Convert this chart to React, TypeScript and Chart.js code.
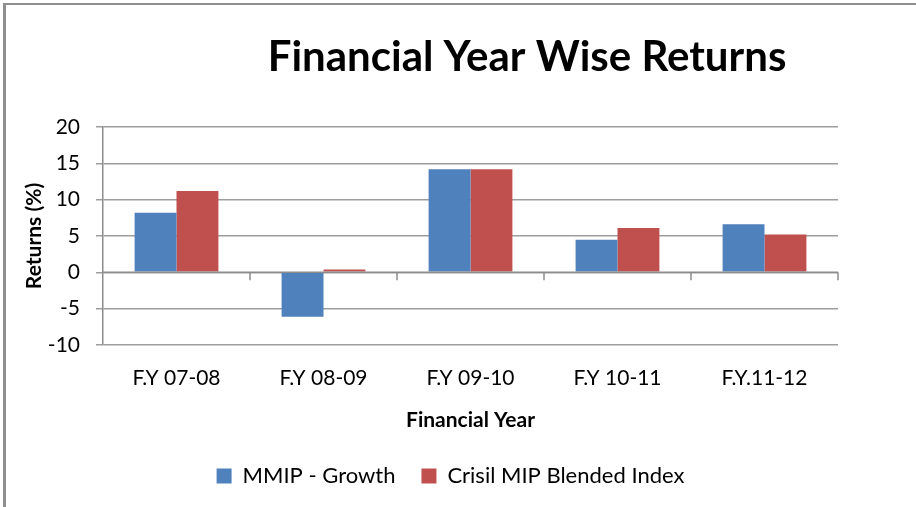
import React, { useEffect, useRef } from "react";
import { Chart, registerables } from "chart.js";

Chart.register(...registerables);

const categories = ["F.Y 07-08", "F.Y 08-09", "F.Y 09-10", "F.Y 10-11", "F.Y.11-12"];
const mmipGrowth = [8.2, -6.1, 14.2, 4.5, 6.6];
const crisilIndex = [11.2, 0.4, 14.2, 6.1, 5.2];
const seriesNames = ["MMIP - Growth", "Crisil MIP Blended Index"];
const chartTitle = "Financial Year Wise Returns";
const xTitle = "Financial Year";
const yTitle = "Returns (%)";
const yMin = -10;
const yMax = 20;
const yStep = 5;

const FONT = "Lato, 'Open Sans', sans-serif";

const titlePlugin = {
  id: "customTitle",
  afterDraw(chart: any) {
    const ctx = chart.ctx;
    ctx.save();
    ctx.font = `bold 42px ${FONT}`;
    ctx.fillStyle = "#000";
    ctx.textAlign = "center";
    ctx.textBaseline = "alphabetic";
    ctx.fillText(chartTitle, 527, 71);
    ctx.restore();
  },
};

const zeroAxisPlugin = {
  id: "zeroAxis",
  afterDatasetsDraw(chart: any) {
    const { ctx, chartArea, scales } = chart;
    const y0 = scales.y.getPixelForValue(0);
    const xs = scales.x;
    ctx.save();
    ctx.strokeStyle = "#8c8c8c";
    ctx.lineWidth = 1.5;
    ctx.beginPath();
    ctx.moveTo(chartArea.left, y0);
    ctx.lineTo(chartArea.right, y0);
    const n = categories.length;
    for (let i = 1; i <= n; i++) {
      const bx = i === n ? chartArea.right : (xs.getPixelForValue(i - 1) + xs.getPixelForValue(i)) / 2;
      ctx.moveTo(bx, y0);
      ctx.lineTo(bx, y0 + 8);
    }
    ctx.stroke();
    ctx.restore();
  },
};

export default function App() {
  const ref = useRef<HTMLCanvasElement>(null);
  useEffect(() => {
    if (!ref.current) return;
    const chart = new Chart(ref.current, {
      type: "bar",
      data: {
        labels: categories,
        datasets: [
          { label: seriesNames[0], data: mmipGrowth, backgroundColor: "#4f81bd", borderWidth: 0 },
          { label: seriesNames[1], data: crisilIndex, backgroundColor: "#c0504d", borderWidth: 0 },
        ],
      },
      options: {
        animation: false,
        responsive: false,
        layout: { padding: { left: 8, right: 23, top: 127, bottom: 10 } },
        datasets: { bar: { categoryPercentage: 0.57, barPercentage: 1 } },
        plugins: {
          title: { display: false },
          tooltip: { enabled: false },
          legend: {
            position: "bottom",
            labels: {
              boxWidth: 15,
              boxHeight: 15,
              padding: 26,
              color: "#000",
              font: { family: FONT, size: 22 },
            },
          },
        },
        scales: {
          x: {
            afterFit(scale: any) {
              scale.height = 94;
            },
            grid: { display: false, drawTicks: false },
            border: { display: false },
            ticks: { color: "#000", font: { family: FONT, size: 21 }, padding: 21 },
            title: {
              display: true,
              text: xTitle,
              color: "#000",
              font: { family: FONT, size: 21, weight: "bold" },
              padding: { top: 0, bottom: 6 },
            },
          },
          y: {
            min: yMin,
            max: yMax,
            afterFit(scale: any) {
              scale.width = 95;
            },
            ticks: { stepSize: yStep, color: "#000", font: { family: FONT, size: 21 }, padding: 16 },
            grid: { color: "#9d9d9d", lineWidth: 1.5, tickLength: 7 },
            border: { color: "#8c8c8c", width: 1.5 },
            title: {
              display: true,
              text: yTitle,
              color: "#000",
              font: { family: FONT, size: 21, weight: "bold" },
              padding: { top: 14, bottom: 0 },
            },
          },
          spacer: {
            position: "right",
            display: true,
            afterFit(scale: any) {
              scale.width = 55;
            },
            grid: { display: false, drawTicks: false },
            border: { display: false },
            ticks: { display: false },
          },
        },
      },
      plugins: [titlePlugin, zeroAxisPlugin],
    });
    return () => chart.destroy();
  }, []);

  return (
    <div style={{ position: "absolute", left: 0, top: 0, width: 916, height: 507, background: "#fff" }}>
      <canvas ref={ref} width={916} height={507} style={{ display: "block" }} />
      <div
        style={{
          position: "absolute",
          left: 3,
          top: 3,
          right: 0,
          bottom: 0,
          borderLeft: "3px solid #8f8f8f",
          borderTop: "2px solid #8f8f8f",
          pointerEvents: "none",
        }}
      />
    </div>
  );
}
